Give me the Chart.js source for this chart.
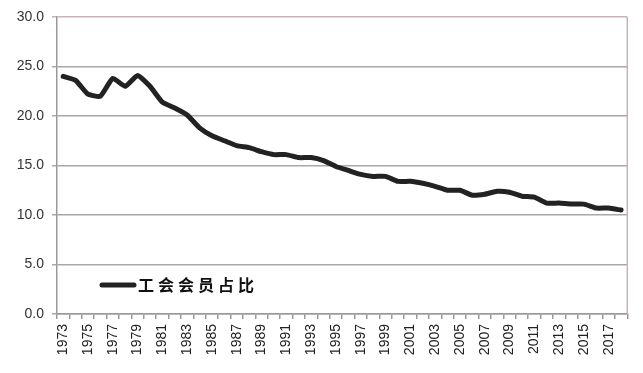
<!DOCTYPE html>
<html>
<head>
<meta charset="utf-8">
<script src="https://cdn.jsdelivr.net/npm/chart.js@4/dist/chart.umd.min.js"></script>
<style>
  html, body { margin: 0; padding: 0; background: #fff; }
  #wrap { width: 643px; height: 373px; position: relative; }
</style>
</head>
<body>
<div id="wrap"><canvas id="myChart" width="643" height="373"></canvas></div>
<script>
// years and union membership share (%)
var years = [];
for (var y = 1973; y <= 2018; y++) { years.push(String(y)); }
var shareValues = [24.0, 23.6, 22.2, 22.0, 23.8, 23.0, 24.1, 23.0, 21.4, 20.8,
                   20.1, 18.8, 18.0, 17.5, 17.0, 16.8, 16.4, 16.1, 16.1, 15.8,
                   15.8, 15.5, 14.9, 14.5, 14.1, 13.9, 13.9, 13.4, 13.4, 13.2,
                   12.9, 12.5, 12.5, 12.0, 12.1, 12.4, 12.3, 11.9, 11.8, 11.2,
                   11.2, 11.1, 11.1, 10.7, 10.7, 10.5];
var seriesName = "工会会员占比";

// legend drawn inside the plot, bottom-left, plus the right border of the plot
var insideLegend = {
  id: 'insideLegend',
  afterDraw: function(chart) {
    var ctx = chart.ctx;
    var a = chart.chartArea;
    ctx.save();
    ctx.strokeStyle = '#c8b4b4';
    ctx.lineWidth = 1.5;
    ctx.beginPath();
    ctx.moveTo(a.right, a.top);
    ctx.lineTo(a.right, a.bottom);
    ctx.stroke();

    var ly = a.top + 268;
    ctx.strokeStyle = '#222';
    ctx.lineWidth = 5;
    ctx.lineCap = 'round';
    ctx.beginPath();
    ctx.moveTo(a.left + 45, ly);
    ctx.lineTo(a.left + 77, ly);
    ctx.stroke();
    ctx.fillStyle = '#111';
    ctx.font = 'bold 16px "Noto Sans CJK SC"';
    ctx.letterSpacing = '4px';
    ctx.textBaseline = 'middle';
    ctx.fillText(seriesName, a.left + 81, ly);
    ctx.restore();
  }
};

new Chart("myChart", {
  type: "line",
  data: {
    labels: years,
    datasets: [{
      label: seriesName,
      data: shareValues,
      borderColor: '#222',
      borderWidth: 5,
      pointRadius: 0,
      tension: 0.15,
      borderJoinStyle: 'round',
      borderCapStyle: 'round'
    }]
  },
  options: {
    responsive: false,
    animation: false,
    layout: { padding: { left: 0, right: 13, top: 17, bottom: 0 } },
    plugins: {
      legend: { display: false },
      tooltip: { enabled: false }
    },
    scales: {
      x: {
        offset: true,
        grid: {
          offset: true,
          drawOnChartArea: false,
          drawTicks: true,
          tickLength: 5,
          color: '#999',
          lineWidth: 1.5
        },
        border: { color: '#999', width: 1.5 },
        ticks: {
          autoSkip: false,
          maxRotation: 90,
          minRotation: 90,
          padding: 5,
          color: '#222',
          font: { family: 'Liberation Sans', size: 14 },
          callback: function(val, i) { return i % 2 === 0 ? years[i] : ''; }
        },
        afterFit: function(scale) { scale.height = 59; }
      },
      y: {
        min: 0,
        max: 30,
        grid: {
          color: function(c) { return c.tick && c.tick.value === 30 ? '#c8b4b4' : '#a8a8a8'; },
          lineWidth: 1.5,
          tickLength: 5
        },
        border: { color: '#999', width: 1.5 },
        ticks: {
          stepSize: 5,
          padding: 8,
          color: '#333',
          font: { family: 'Liberation Sans', size: 14 },
          callback: function(v) { return v.toFixed(1); }
        },
        afterFit: function(scale) { scale.width = 57; }
      }
    }
  },
  plugins: [insideLegend]
});
</script>
</body>
</html>
